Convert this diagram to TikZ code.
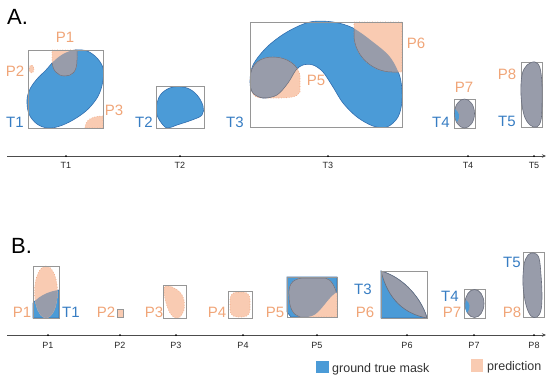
\documentclass[tikz,border=0pt]{standalone}
\usepackage{fontspec}
\setmainfont{Liberation Sans}
\usetikzlibrary{arrows.meta}
\definecolor{mblue}{RGB}{75,155,215}
\definecolor{mblueline}{RGB}{50,110,175}
\definecolor{mpeach}{RGB}{249,203,178}
\definecolor{mpeachline}{RGB}{238,160,120}
\definecolor{movl}{RGB}{152,156,170}
\definecolor{movlline}{RGB}{105,110,125}
\definecolor{tblue}{RGB}{55,125,195}
\definecolor{torange}{RGB}{240,165,120}
\definecolor{boxgray}{RGB}{150,150,150}
\tikzset{
  gt/.style={fill=mblue, draw=mblueline, line width=0.6pt},
  pred/.style={fill=mpeach, draw=mpeachline, dotted, line width=0.6pt},
  ovl/.style={fill=movl},
  ovledge/.style={draw=movlline, line width=0.5pt},
  ovlb/.style={fill=movl, draw=movlline, line width=0.6pt},
  bbox/.style={draw=boxgray, line width=0.6pt},
  tlab/.style={text=tblue, font=\fontsize{15}{15}\selectfont, inner sep=0pt},
  plab/.style={text=torange, font=\fontsize{15}{15}\selectfont, inner sep=0pt},
  axlab/.style={font=\fontsize{9}{9}\selectfont, text=black!85, inner sep=0pt},
  tickdot/.style={circle, fill=black, inner sep=0pt, minimum size=2pt},
  axisline/.style={draw=black!70, line width=0.6pt, -{Stealth[length=4pt,width=3.5pt]}},
  % shapes
  blobTone/.style={insert path={plot[smooth cycle, tension=0.6] coordinates {(75,50) (87,51) (97,58) (103,68) (103,80) (100,92) (95,101) (86,111) (73,120) (60,126) (48,128) (37,124) (29,114) (27,100) (30,89) (37,79) (46,70) (55,60) (65,53)}}},
  predPone/.style={insert path={(52,50) -- (77,50) -- (77,60) .. controls (77,72) and (72,76) .. (65,76) .. controls (57,76) and (52,70) .. (52,60) -- cycle}},
  predPthree/.style={insert path={(85,128) .. controls (85,120) and (92,116) .. (103,116) -- (103,128) -- cycle}},
  blobTtwo/.style={insert path={plot[smooth cycle, tension=0.6] coordinates {(173,87) (187,88) (197,95) (203,106) (202,115) (192,120) (177,125) (168,128) (163,125) (157,115) (157,103) (162,93)}}},
  blobTthree/.style={insert path={plot[smooth cycle, tension=0.55] coordinates {(250,82) (253,65) (267,47) (287,32) (310,22) (333,22) (353,28) (373,42) (390,57) (400,77) (402,100) (398,117) (387,127) (373,126) (357,117) (343,103) (333,87) (323,72) (313,65) (303,65) (296,70) (288,83) (277,95) (263,98) (253,93)}}},
  predPfive/.style={insert path={(250,80) .. controls (250,62) and (262,57) .. (273,57) .. controls (287,57) and (298,65) .. (300,75) -- (300,92) .. controls (298,97) and (290,98) .. (280,98) -- (262,98) .. controls (252,98) and (250,90) .. (250,80) -- cycle}},
  predPsix/.style={insert path={(354,22) -- (402,22) -- (402,72) -- (392,72) .. controls (372,72) and (354,55) .. (354,35) -- cycle}},
  bPoneT/.style={insert path={(33,318) -- (33,303) .. controls (40,295) and (50,291) .. (59,290) -- (59,318) -- cycle}},
  bPoneP/.style={insert path={(46,292) ellipse [x radius=11.5, y radius=26]}},
  bPfiveT/.style={insert path={(287,277) -- (337,277) -- (337,292) .. controls (330,296) and (325,305) .. (318,312) .. controls (314,316) and (310,317) .. (305,317) -- (291,317) -- (287,312) -- cycle}},
  bPfiveP/.style={insert path={(289,295) .. controls (288,282) and (295,278) .. (305,278) -- (325,278) .. controls (331,279) and (335,286) .. (337,295) -- (337,317) -- (300,317) .. controls (293,315) and (289,308) .. (289,295) -- cycle}},
}
\begin{document}
\begin{tikzpicture}[x=1pt,y=-1pt]
\useasboundingbox (0,0) rectangle (550,378);

% ================= A =================
\node[anchor=base west, inner sep=0pt, font=\fontsize{22}{22}\selectfont] (labA) at (7,24) {A.};

% T1
\path[gt, blobTone];
\path[pred, predPone];
\path[pred, predPthree];
\begin{scope}\clip[blobTone]; \path[ovl, predPone]; \path[ovl, predPthree]; \path[ovledge, predPone]; \end{scope}
\path[pred] (31.5,69) ellipse [x radius=2.5, y radius=4];
\draw[bbox] (28,50) rectangle (103,128);
\node[plab] (aP1) at (65,37) {P1};
\node[plab] (aP2) at (15,71) {P2};
\node[plab] (aP3) at (114,110) {P3};
\node[tlab] (aT1) at (15,122) {T1};

% T2
\path[gt, blobTtwo];
\draw[bbox] (156,86) rectangle (204,128);
\node[tlab] (aT2) at (144,122) {T2};

% T3
\path[gt, blobTthree];
\path[pred, predPfive];
\path[pred, predPsix];
\begin{scope}\clip[blobTthree]; \path[ovl, predPfive]; \path[ovl, predPsix]; \path[ovledge, predPfive]; \path[ovledge, predPsix]; \end{scope}
\begin{scope}\clip[predPfive]; \path[ovledge, blobTthree]; \end{scope}
\draw[bbox] (250,22) rectangle (402,127);
\node[tlab] (aT3) at (235,122) {T3};
\node[plab] (aP5) at (316,80) {P5};
\node[plab] (aP6) at (416,43) {P6};

% T4
\draw[bbox] (454,99) rectangle (475,128);
\path[ovlb] (464.5,113.5) ellipse [x radius=10, y radius=14.5];
\path[fill=mblue] (455,109) .. controls (459,112) and (461,117) .. (457,122) .. controls (455,119) and (454.5,113) .. (455,109) -- cycle;
\node[plab] (aP7) at (464,87) {P7};
\node[tlab] (aT4) at (441,122) {T4};

% T5
\draw[bbox] (521,62) rectangle (542,127);
\path[ovlb] plot[smooth cycle, tension=0.6] coordinates {(535,62) (540,68) (542,85) (542,105) (541,120) (537,127) (530,125) (524,115) (521,95) (522,75) (527,65)};
\node[plab] (aP8) at (507,74) {P8};
\node[tlab] (aT5) at (507,121) {T5};

% axis A
\coordinate (axAs) at (7,156);
\coordinate (axAe) at (546,156);
\draw[axisline] (axAs) -- (axAe);
\node[tickdot] (tA1) at (66,156) {};
\node[tickdot] (tA2) at (180,156) {};
\node[tickdot] (tA3) at (328,156) {};
\node[tickdot] (tA4) at (468,156) {};
\node[tickdot] (tA5) at (534,156) {};
\node[axlab] (lA1) at (66,165) {T1};
\node[axlab] (lA2) at (180,165) {T2};
\node[axlab] (lA3) at (328,165) {T3};
\node[axlab] (lA4) at (468,165) {T4};
\node[axlab] (lA5) at (534,165) {T5};

% ================= B =================
\node[anchor=base west, inner sep=0pt, font=\fontsize{22}{22}\selectfont] (labB) at (11,253) {B.};

% P1
\path[gt, bPoneT];
\path[pred, bPoneP];
\begin{scope}\clip[bPoneT]; \path[ovl, bPoneP]; \end{scope}
\draw[mblueline, line width=1pt] (33,318) -- (59,318);
\draw[bbox] (33,266) rectangle (59,318);
\node[plab] (bP1) at (22,312) {P1};
\node[tlab] (bT1) at (71,312) {T1};

% P2
\path[fill=mpeach] (117.5,309.5) rectangle (122.5,316.5);
\draw[bbox] (117,309) rectangle (123,317);
\node[plab] (bP2) at (106,312) {P2};

% P3
\path[pred] plot[smooth cycle, tension=0.6] coordinates {(165,286) (172,287) (180,292) (184,300) (184,310) (180,317) (175,318) (170,313) (166,303) (164,292)};
\draw[bbox] (163,285) rectangle (186,318);
\node[plab] (bP3) at (154,312) {P3};

% P4
\path[pred, rounded corners=7pt] (230,292) rectangle (250,317);
\draw[bbox] (228,291) rectangle (252,318);
\node[plab] (bP4) at (217,312) {P4};

% P5
\path[gt, bPfiveT];
\path[pred, bPfiveP];
\begin{scope}\clip[bPfiveT]; \path[ovl, bPfiveP]; \path[ovledge, bPfiveP]; \end{scope}
\draw[bbox] (287,277) rectangle (337,317);
\node[plab] (bP5) at (275,312) {P5};

% P6
\path[gt] (381,271) .. controls (405,278) and (422,300) .. (427,318) -- (381,318) -- cycle;
\path[ovl, draw=movlline, line width=0.6pt] (381,271) .. controls (405,278) and (422,300) .. (427,318) .. controls (405,314) and (388,300) .. (381,271) -- cycle;
\draw[bbox] (381,271) rectangle (427,318);
\node[tlab] (bT3) at (363,289) {T3};
\node[plab] (bP6) at (365,312) {P6};

% P7
\draw[bbox] (464,289) rectangle (485,318);
\path[ovlb] (474.5,303.5) ellipse [x radius=9.5, y radius=14];
\path[fill=mblue] (466,300) .. controls (470,303) and (471,308) .. (467,313) .. controls (465,310) and (465,304) .. (466,300) -- cycle;
\node[tlab] (bT4) at (450,296) {T4};
\node[plab] (bP7) at (452,312) {P7};

% P8
\draw[bbox] (523,252) rectangle (544,317);
\path[ovlb] plot[smooth cycle, tension=0.6] coordinates {(534,253) (539,258) (541,275) (542,295) (541,310) (537,317) (531,316) (526,305) (523,285) (524,265) (528,255)};
\node[tlab] (bT5) at (512,262) {T5};
\node[plab] (bP8) at (512,312) {P8};

% axis B
\coordinate (axBs) at (7,335);
\coordinate (axBe) at (546,335);
\draw[axisline] (axBs) -- (axBe);
\node[tickdot] (tB1) at (48,335) {};
\node[tickdot] (tB2) at (120,335) {};
\node[tickdot] (tB3) at (176,335) {};
\node[tickdot] (tB4) at (243,335) {};
\node[tickdot] (tB5) at (317,335) {};
\node[tickdot] (tB6) at (407,335) {};
\node[tickdot] (tB7) at (474,335) {};
\node[tickdot] (tB8) at (534,335) {};
\node[axlab] (lB1) at (48,345) {P1};
\node[axlab] (lB2) at (120,345) {P2};
\node[axlab] (lB3) at (176,345) {P3};
\node[axlab] (lB4) at (243,345) {P4};
\node[axlab] (lB5) at (317,345) {P5};
\node[axlab] (lB6) at (407,345) {P6};
\node[axlab] (lB7) at (474,345) {P7};
\node[axlab] (lB8) at (534,345) {P8};

% legend
\path[fill=mblue] (316,361) rectangle (329,373);
\node[anchor=base west, inner sep=0pt, font=\fontsize{12.5}{12.5}\selectfont, text=black!80] (legGT) at (332,372) {ground true mask};
\path[fill=mpeach] (471,359) rectangle (483,372);
\node[anchor=base west, inner sep=0pt, font=\fontsize{12.5}{12.5}\selectfont, text=black!80] (legPR) at (487,370) {prediction};
\end{tikzpicture}
\end{document}
